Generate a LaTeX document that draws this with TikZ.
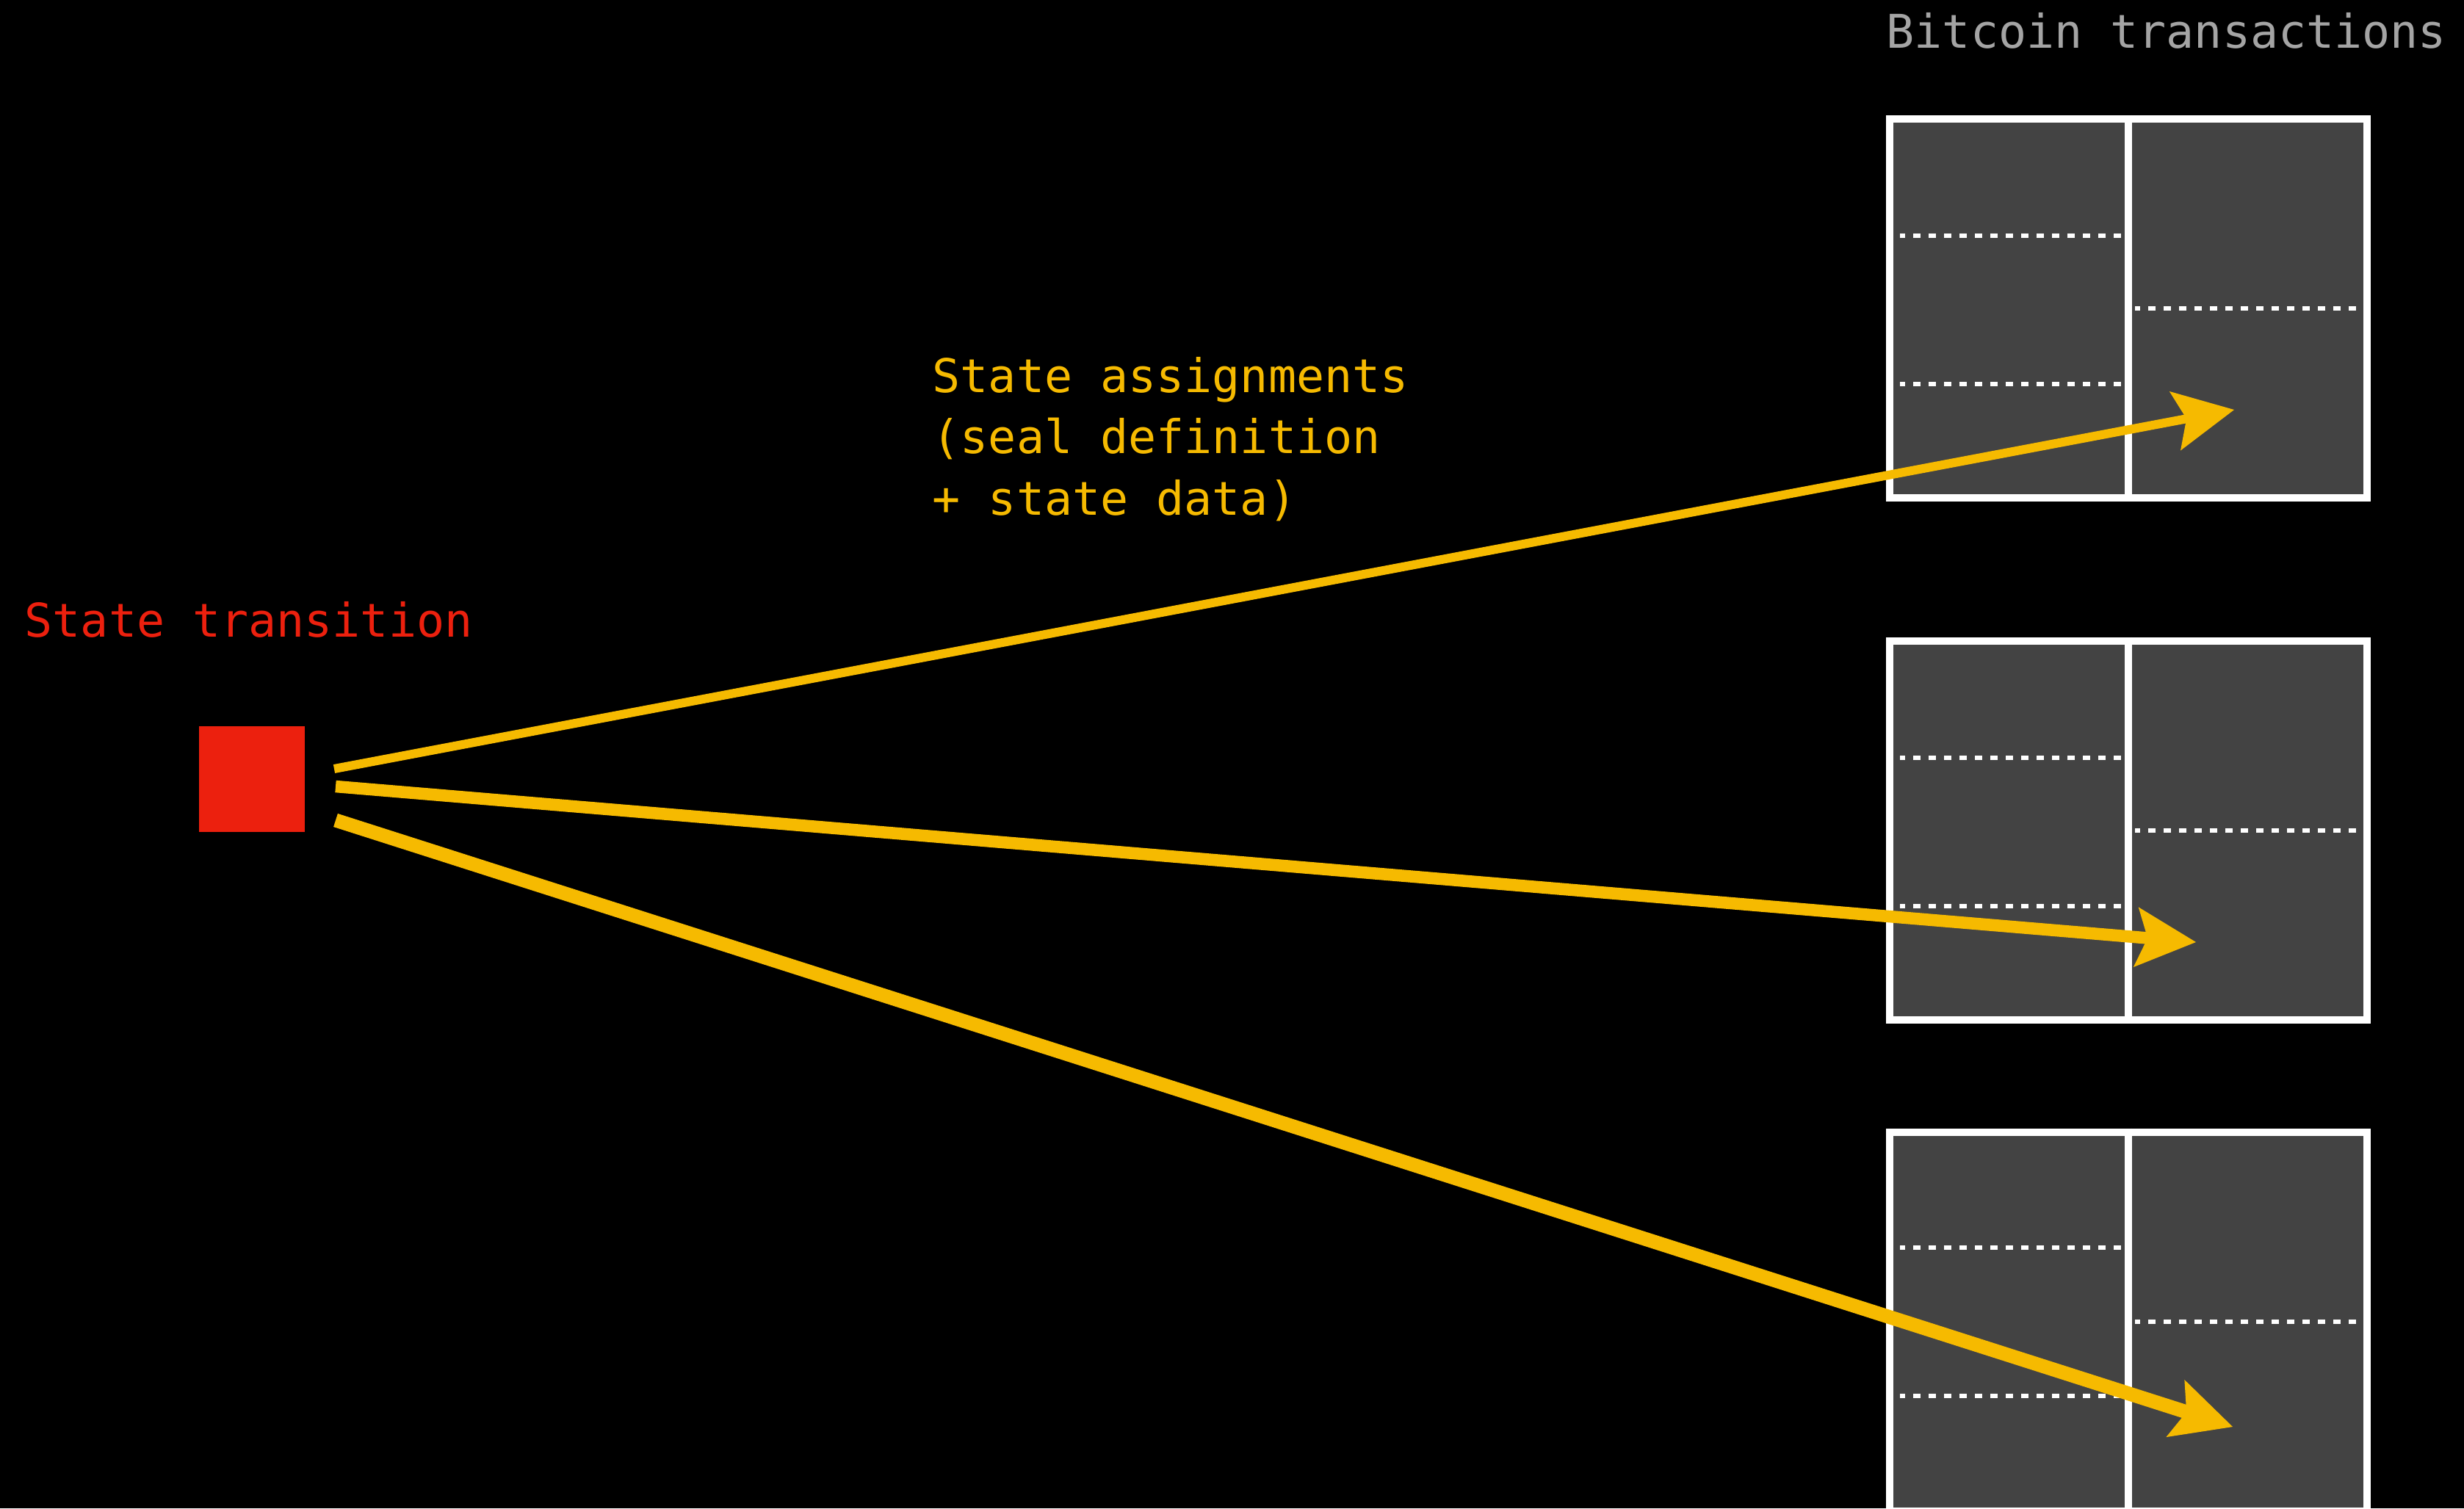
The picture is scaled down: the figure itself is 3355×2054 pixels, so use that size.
\documentclass[tikz,border=0pt]{standalone}
\usepackage{fontspec}
\setmonofont{DejaVu Sans Mono}
\usepackage{tikz}
\usetikzlibrary{arrows.meta,positioning,calc}
\definecolor{txfill}{HTML}{434343}
\definecolor{stred}{HTML}{EC200E}
\definecolor{assign}{HTML}{F6BA00}
\definecolor{caption}{HTML}{A4A4A4}

\begin{document}
\begin{tikzpicture}[x=0.01cm,y=-0.01cm,font=\ttfamily\fontsize{18}{23.7}\selectfont]
  \tikzstyle{tx}=[draw=white, line width=0.1cm, fill=txfill, minimum width=6.49cm, minimum height=5.16cm, inner sep=0pt]
  \tikzstyle{split}=[white, line width=0.1cm]
  \tikzstyle{slot}=[white, line width=0.054cm, dash pattern=on 0.1cm off 0.11cm, dash phase=0.03cm]
  \tikzstyle{seal}=[assign, -{Stealth[length=0.82cm, width=0.82cm, inset=0.16cm, line width=0pt]}]
  \tikzstyle{txt}=[inner sep=0pt, anchor=base west, align=left]

  \fill[black] (0,0) rectangle (3355,2054);
  \useasboundingbox (0,0) rectangle (3355,2054);

  \node[txt, text=caption] (title) at (2568,65) {Bitcoin transactions};
  \node[txt, text=stred]   (stlabel) at (33,867) {State transition};
  \node[txt, text=assign]  (salabel) at (1269,701) {State assignments\\(seal definition\\+ state data)};

  \node[fill=stred, minimum size=1.43cm, inner sep=0pt] (trans) at (343,1061) {};

  \node[tx] (tx1) at (2898,420) {};
  \draw[split] (tx1.north) -- (tx1.south);
  \draw[slot] ($(tx1)+(-311,-99)$) -- ($(tx1)+(-5,-99)$);
  \draw[slot] ($(tx1)+(-311,103)$) -- ($(tx1)+(-5,103)$);
  \draw[slot] ($(tx1)+(9,0)$) -- ($(tx1)+(315,0)$);

  \node[tx] (tx2) at (2898,1131) {};
  \draw[split] (tx2.north) -- (tx2.south);
  \draw[slot] ($(tx2)+(-311,-99)$) -- ($(tx2)+(-5,-99)$);
  \draw[slot] ($(tx2)+(-311,103)$) -- ($(tx2)+(-5,103)$);
  \draw[slot] ($(tx2)+(9,0)$) -- ($(tx2)+(315,0)$);

  \node[tx] (tx3) at (2898,1800) {};
  \draw[split] (tx3.north) -- (tx3.south);
  \draw[slot] ($(tx3)+(-311,-101)$) -- ($(tx3)+(-5,-101)$);
  \draw[slot] ($(tx3)+(-311,101)$) -- ($(tx3)+(-5,101)$);
  \draw[slot] ($(tx3)+(9,0)$) -- ($(tx3)+(315,0)$);

  \coordinate (out1) at (455,1047);
  \coordinate (out2) at (457,1071);
  \coordinate (out3) at (457,1117);
  \coordinate (in1) at (3042,558);
  \coordinate (in2) at (2990,1283);
  \coordinate (in3) at (3040,1943);

  \draw[seal, line width=0.12cm]  (out1) -- (in1);
  \draw[seal, line width=0.165cm] (out2) -- (in2);
  \draw[seal, line width=0.19cm]  (out3) -- (in3);
\end{tikzpicture}
\end{document}
